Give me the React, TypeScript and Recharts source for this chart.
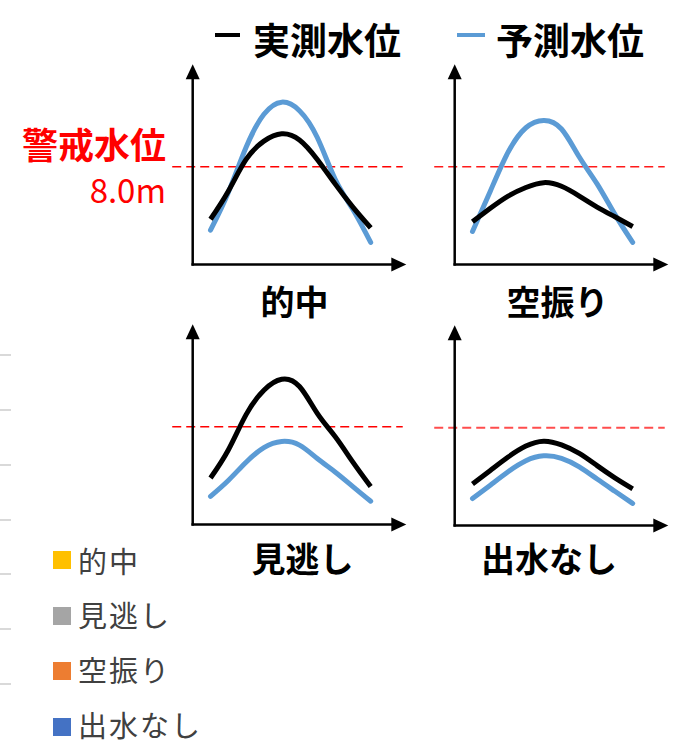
import React from 'react';
import { LineChart, Line, XAxis, YAxis, ReferenceLine, ReferenceDot } from 'recharts';

// time steps shared by every panel
const steps = [0, 1, 2, 3, 4, 5, 6, 7, 8, 9];

// water level (m): observed (black) / forecast (blue)
const hitObserved = [3.7, 6.0, 8.6, 10.1, 10.7, 10.2, 8.6, 6.6, 4.7, 3.0];
const hitForecast = [2.8, 5.9, 9.6, 12.3, 13.3, 12.6, 10.4, 7.0, 4.5, 1.8];
const falseObserved = [3.5, 4.6, 5.6, 6.3, 6.7, 6.4, 5.6, 4.7, 3.9, 3.1];
const falseForecast = [2.7, 6.0, 9.2, 11.2, 11.8, 11.1, 8.8, 6.6, 4.1, 1.8];
const missObserved = [3.8, 6.1, 9.0, 11.0, 11.9, 11.3, 9.1, 7.2, 5.1, 3.1];
const missForecast = [2.3, 3.6, 5.1, 6.3, 6.8, 6.5, 5.4, 4.3, 3.1, 1.9];
const noneObserved = [3.4, 4.5, 5.6, 6.5, 6.9, 6.6, 5.9, 4.9, 3.9, 3.0];
const noneForecast = [2.2, 3.3, 4.4, 5.3, 5.7, 5.5, 4.8, 3.8, 2.8, 1.8];

const panelTitles = ['的中', '空振り', '見逃し', '出水なし'];
const seriesNames = ['実測水位', '予測水位'];
const legendCategories = ['的中', '見逃し', '空振り', '出水なし'];
const legendColors = ['#FFC000', '#A5A5A5', '#ED7D31', '#4472C4'];
const warningLevel = 8.0;

const FONT = '"Noto Sans CJK JP", "Noto Sans", sans-serif';
const PX_T = 17.8;
const PX_V = 12.2;
const T_MIN = -2.5;
const T_MAX = 11.5;
const V_MIN = -2;
const V_MAX = 17;
const CW = (T_MAX - T_MIN) * PX_T;
const CH = (V_MAX - V_MIN) * PX_V;

const build = (obs: number[], fc: number[]) =>
  steps.map((t, i) => ({ t, observed: obs[i], forecast: fc[i] }));

const panels = [
  { data: build(hitObserved, hitForecast), x0: 210, y0: 264.5, title: panelTitles[0], tx: 294.5, ty: 301.5, dash: '#ff0000', dw: 1.5 },
  { data: build(falseObserved, falseForecast), x0: 472, y0: 264.3, title: panelTitles[1], tx: 557.5, ty: 301.5, dash: '#ff1a1a', dw: 1.5 },
  { data: build(missObserved, missForecast), x0: 210.5, y0: 524.3, title: panelTitles[2], tx: 302.5, ty: 558, dash: '#ff0000', dw: 1.5 },
  { data: build(noneObserved, noneForecast), x0: 472.3, y0: 525, title: panelTitles[3], tx: 549, ty: 558, dash: '#ff4d4d', dw: 2 },
];

const upArrow = (p: any) => (
  <polygon points={`${p.cx},${p.cy} ${p.cx - 7},${p.cy + 15} ${p.cx + 7},${p.cy + 15}`} fill="#000" />
);
const rightArrow = (p: any) => (
  <polygon points={`${p.cx},${p.cy} ${p.cx - 15},${p.cy - 7} ${p.cx - 15},${p.cy + 7}`} fill="#000" />
);

function Text({ x, y, anchor = 'middle', style, children }: any) {
  const tx = anchor === 'middle' ? '-50%' : anchor === 'end' ? '-100%' : '0';
  return (
    <div
      style={{
        position: 'absolute',
        left: x,
        top: y,
        transform: `translate(${tx}, -50%)`,
        whiteSpace: 'nowrap',
        lineHeight: 1,
        fontFamily: FONT,
        ...style,
      }}
    >
      {children}
    </div>
  );
}

function Panel({ p }: { p: (typeof panels)[number] }) {
  return (
    <div style={{ position: 'absolute', left: p.x0 + T_MIN * PX_T, top: p.y0 - V_MAX * PX_V }}>
      <LineChart width={CW} height={CH} data={p.data} margin={{ top: 0, right: 0, bottom: 0, left: 0 }}>
        <XAxis dataKey="t" type="number" domain={[T_MIN, T_MAX]} hide allowDataOverflow />
        <YAxis type="number" domain={[V_MIN, V_MAX]} hide allowDataOverflow />
        <ReferenceLine
          segment={[{ x: -2.15, y: warningLevel }, { x: 10.8, y: warningLevel }]}
          stroke={p.dash}
          strokeWidth={p.dw}
          strokeDasharray="9 5"
        />
        <ReferenceLine segment={[{ x: -1, y: -0.1 }, { x: -1, y: 15.4 }]} stroke="#000" strokeWidth={2.5} />
        <ReferenceLine segment={[{ x: -1.07, y: 0 }, { x: 10.3, y: 0 }]} stroke="#000" strokeWidth={2.5} />
        <ReferenceDot x={-1} y={16.4} r={0} shape={upArrow} />
        <ReferenceDot x={11} y={0} r={0} shape={rightArrow} />
        <Line
          dataKey="forecast"
          name={seriesNames[1]}
          type="natural"
          stroke="#5B9BD5"
          strokeWidth={5}
          strokeLinecap="round"
          dot={false}
          activeDot={false}
          isAnimationActive={false}
        />
        <Line
          dataKey="observed"
          name={seriesNames[0]}
          type="natural"
          stroke="#000"
          strokeWidth={5}
          dot={false}
          activeDot={false}
          isAnimationActive={false}
        />
      </LineChart>
      <Text x={p.tx - (p.x0 + T_MIN * PX_T)} y={p.ty - (p.y0 - V_MAX * PX_V)} style={{ fontSize: 34, fontWeight: 700, color: '#000' }}>
        {p.title}
      </Text>
    </div>
  );
}

export default function App() {
  return (
    <div style={{ position: 'absolute', left: 0, top: 0, width: 674, height: 743, background: '#fff', overflow: 'hidden' }}>
      {/* stubs of gridlines from a neighbouring chart */}
      {[355, 410, 465, 520, 574, 629, 684].map((y) => (
        <div key={y} style={{ position: 'absolute', left: 0, top: y - 1, width: 11, height: 2, background: '#d9d9d9' }} />
      ))}

      {/* series legend */}
      <div style={{ position: 'absolute', left: 215, top: 33, width: 25, height: 3.5, background: '#000' }} />
      <Text x={253} y={39} anchor="start" style={{ fontSize: 37, fontWeight: 700 }}>{seriesNames[0]}</Text>
      <div style={{ position: 'absolute', left: 457, top: 33, width: 28, height: 3.5, background: '#5B9BD5' }} />
      <Text x={496} y={39} anchor="start" style={{ fontSize: 37, fontWeight: 700 }}>{seriesNames[1]}</Text>

      {/* warning level label */}
      <Text x={166} y={143} anchor="end" style={{ fontSize: 36, fontWeight: 700, color: '#ff0000' }}>警戒水位</Text>
      <Text x={166} y={189} anchor="end" style={{ fontSize: 33, color: '#ff0000' }}>{warningLevel.toFixed(1)}m</Text>

      {panels.map((p, i) => (
        <Panel key={i} p={p} />
      ))}

      {/* category legend */}
      {legendCategories.map((c, i) => (
        <React.Fragment key={c}>
          <div style={{ position: 'absolute', left: 53, top: 551 + i * 55.6, width: 18, height: 18, background: legendColors[i] }} />
          <Text x={78} y={559.5 + i * 54.8} anchor="start" style={{ fontSize: 29, color: '#404040', letterSpacing: 2 }}>
            {c}
          </Text>
        </React.Fragment>
      ))}
    </div>
  );
}
